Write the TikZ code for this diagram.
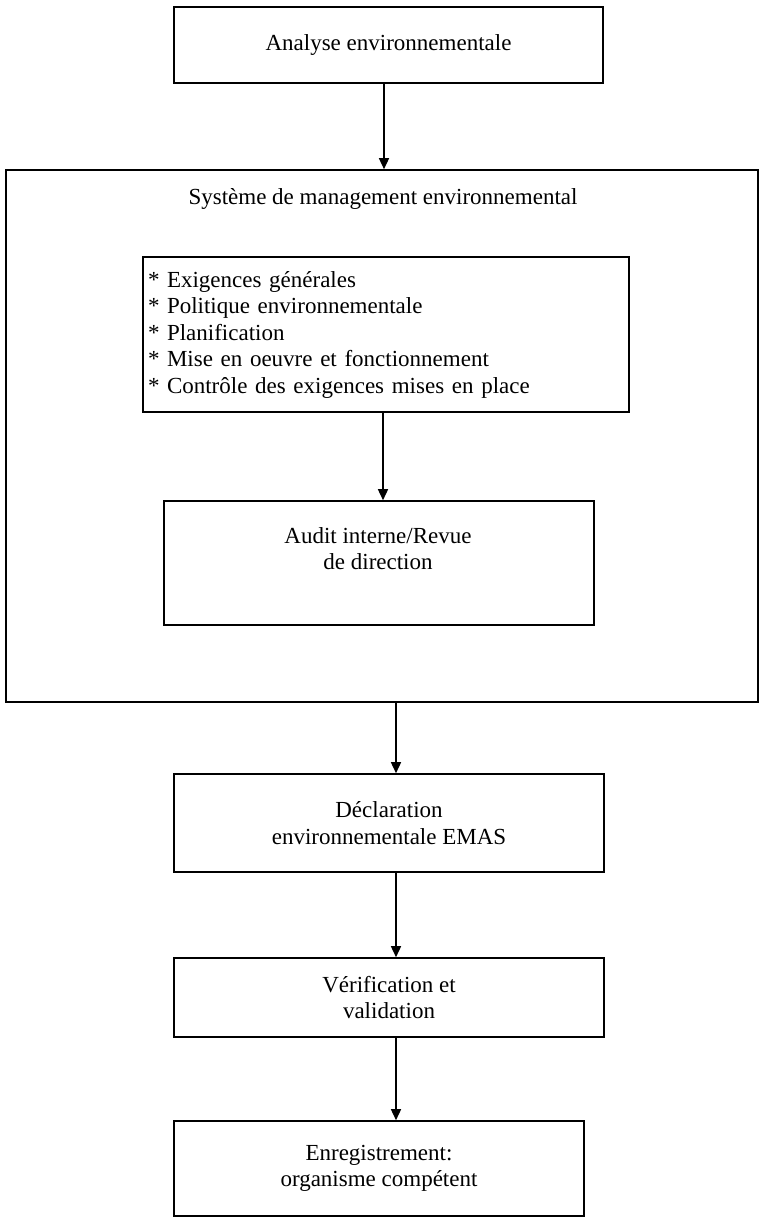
\documentclass[tikz,border=0pt]{standalone}
\usepackage{fontspec}
\setmainfont{Liberation Serif}
\usetikzlibrary{arrows.meta}
\begin{document}
\begin{tikzpicture}[x=1pt,y=1pt,
  every node/.style={font=\fontsize{23}{26.5}\selectfont},
  box/.style={draw, line width=1.6pt, inner sep=0pt, align=center},
  lbl/.style={align=center, inner sep=0pt},
  arr/.style={line width=1.5pt, -{Triangle[length=11pt,width=10pt]}}]
\useasboundingbox (0,0) rectangle (772,-1225);
\coordinate (xa) at (384,0);
\coordinate (xb) at (383,0);
\coordinate (xc) at (396,0);
\node[box, minimum width=429pt, minimum height=76pt] (analyse) at (388.5,-45) {Analyse environnementale};
\node[box, minimum width=752pt, minimum height=532pt] (sys) at (382,-436) {};
\node[lbl] (systitle) at (383,-199) {Système de management environnemental};
\node[box, minimum width=486pt, minimum height=155pt, text width=476pt, align=left, inner xsep=5pt] (list) at (386,-334.5)
  {\makebox[19pt][l]{*}Exigences générales\\
   \makebox[19pt][l]{*}Politique environnementale\\
   \makebox[19pt][l]{*}Planification\\
   \makebox[19pt][l]{*}Mise en oeuvre et fonctionnement\\
   \makebox[19pt][l]{*}Contrôle des exigences mises en place};
\node[box, minimum width=430pt, minimum height=124pt] (audit) at (379,-563) {};
\node[lbl] (audittxt) at (378,-548.5) {Audit interne/Revue\\de direction};
\node[box, minimum width=430pt, minimum height=98pt] (decl) at (389,-823) {Déclaration\\environnementale EMAS};
\node[box, minimum width=430pt, minimum height=79pt] (verif) at (389,-997.5) {Vérification et\\validation};
\node[box, minimum width=410pt, minimum height=95pt] (enreg) at (379,-1168.5) {Enregistrement:\\organisme compétent};
\draw[arr] (analyse.south -| xa) -- (sys.north -| xa);
\draw[arr] (list.south -| xb) -- (audit.north -| xb);
\draw[arr] (sys.south -| xc) -- (decl.north -| xc);
\draw[arr] (decl.south -| xc) -- (verif.north -| xc);
\draw[arr] (verif.south -| xc) -- (enreg.north -| xc);
\end{tikzpicture}
\end{document}
